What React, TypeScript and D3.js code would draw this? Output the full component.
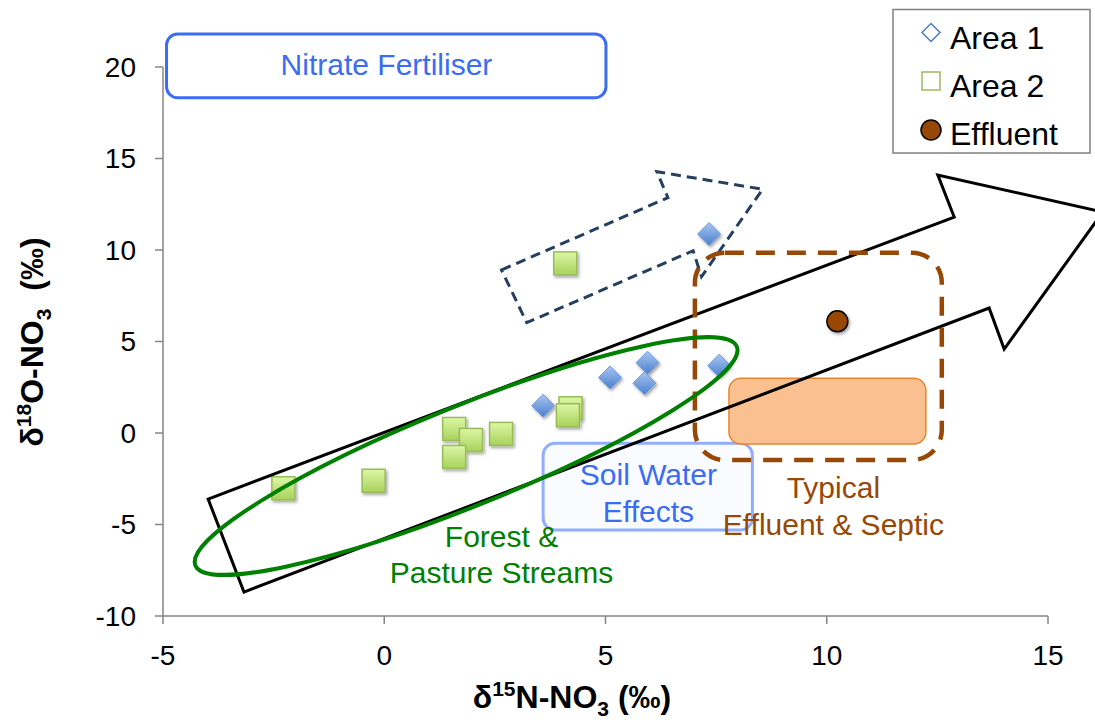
import React from 'react';
import * as d3 from 'd3';

// axes
const xTicks = [-5, 0, 5, 10, 15];
const yTicks = [-10, -5, 0, 5, 10, 15, 20];

// series (d15N, d18O)
const area1N = [7.34, 3.59, 5.1, 5.95, 5.88, 7.57];
const area1O = [10.87, 1.49, 3.03, 3.84, 2.72, 3.68];
const area2N = [-2.28, -0.24, 1.58, 1.96, 2.64, 1.58, 4.21, 4.15, 4.09];
const area2O = [-3.02, -2.61, 0.22, -0.38, -0.05, -1.31, 1.35, 0.97, 9.27];
const effluentN = [10.24];
const effluentO = [6.1];

const legendLabels = ['Area 1', 'Area 2', 'Effluent'];

// annotation shapes, in data units
const bigArrow: [number, number][] = [
  [-3.98, -3.61], [12.88, 11.8], [12.51, 14.1], [16.24, 12.08],
  [14.01, 4.59], [13.67, 6.83], [-3.17, -8.69],
];
const dashArrow: [number, number][] = [
  [2.65, 8.91], [6.41, 12.86], [6.16, 14.28], [8.55, 13.32],
  [7.17, 8.54], [6.98, 9.96], [3.22, 6.03],
];
const effluentZone = { x0: 7.02, x1: 12.6, y0: -1.48, y1: 9.85 };
const orangeZone = { x0: 7.79, x1: 12.24, y0: -0.6, y1: 2.99 };
const fertBox = { x0: -4.92, x1: 5.01, y0: 18.32, y1: 21.8 };
const soilBox = { x0: 3.59, x1: 8.32, y0: -5.3, y1: -0.56 };
const forestCentre = [1.85, -1.26];

const font = '"Liberation Sans", Arial, sans-serif';

export default function App() {
  const width = 1095, height = 720;
  const left = 163, right = 1048, top = 67, bottom = 616;

  const x = d3.scaleLinear().domain([-5, 15]).range([left, right]);
  const y = d3.scaleLinear().domain([-10, 20]).range([bottom, top]);

  const poly = d3.line<[number, number]>().x(d => x(d[0])).y(d => y(d[1]));

  const rect = (b: { x0: number; x1: number; y0: number; y1: number }) => ({
    x: x(b.x0), y: y(b.y1), width: x(b.x1) - x(b.x0), height: y(b.y0) - y(b.y1),
  });

  const diamond = (cx: number, cy: number, r: number) =>
    `M${cx},${cy - r}L${cx + r},${cy}L${cx},${cy + r}L${cx - r},${cy}Z`;

  const blue = '#3a6cf4';
  const brown = '#974706';

  return (
    <svg width={width} height={height} style={{ position: 'absolute', left: 0, top: 0, background: '#fff' }} fontFamily={font}>
      <defs>
        <linearGradient id="gBlue" x1="0" y1="0" x2="0" y2="1">
          <stop offset="0" stopColor="#a9c6f0" />
          <stop offset="1" stopColor="#4a7fcf" />
        </linearGradient>
        <linearGradient id="gGreen" x1="0" y1="0" x2="0" y2="1">
          <stop offset="0" stopColor="#dcf7a6" />
          <stop offset="1" stopColor="#a8d25c" />
        </linearGradient>
        <filter id="shadow" x="-30%" y="-30%" width="170%" height="170%">
          <feDropShadow dx="1.5" dy="2" stdDeviation="1.5" floodColor="#000" floodOpacity="0.35" />
        </filter>
      </defs>

      {/* axes */}
      <g stroke="#868686" strokeWidth={1.5}>
        <line x1={left} x2={left} y1={top} y2={bottom} />
        <line x1={left} x2={right} y1={bottom} y2={bottom} />
        {yTicks.map(t => <line key={t} x1={left - 8} x2={left} y1={y(t)} y2={y(t)} />)}
        {xTicks.map(t => <line key={t} x1={x(t)} x2={x(t)} y1={bottom} y2={bottom + 8} />)}
      </g>
      <g fontSize={28} fill="#000">
        {yTicks.map(t => (
          <text key={t} x={left - 27} y={y(t)} dy="0.35em" textAnchor="end">{t}</text>
        ))}
        {xTicks.map(t => (
          <text key={t} x={x(t)} y={bottom + 49} textAnchor="middle">{t}</text>
        ))}
      </g>
      <text x={572} y={708} textAnchor="middle" fontSize={32} fontWeight="bold">
        δ<tspan fontSize={21} dy={-12}>15</tspan><tspan dy={12}>N-NO</tspan>
        <tspan fontSize={21} dy={8}>3</tspan><tspan dy={-8}> (‰)</tspan>
      </text>
      <text transform="translate(43,342) rotate(-90)" textAnchor="middle" fontSize={32} fontWeight="bold" xmlSpace="preserve">
        δ<tspan fontSize={21} dy={-12}>18</tspan><tspan dy={12}>O-NO</tspan>
        <tspan fontSize={21} dy={8}>3</tspan><tspan dy={-8}>  (‰)</tspan>
      </text>

      {/* boxes behind */}
      <rect {...rect(fertBox)} rx={11} fill="#fff" stroke={blue} strokeWidth={3} />
      <rect {...rect(soilBox)} rx={12} fill="#f8faff" fillOpacity={0.8} stroke="#7f9ffb" strokeOpacity={0.85} strokeWidth={3} />
      <rect {...rect(orangeZone)} rx={12} fill="#fac090" stroke="#e8842c" strokeWidth={1.5} />

      {/* data */}
      <g filter="url(#shadow)">
        {area2N.map((n, i) => (
          <rect key={i} x={x(n) - 11.5} y={y(area2O[i]) - 11.5} width={23} height={23}
            fill="url(#gGreen)" stroke="#9bbb59" strokeWidth={1.5} />
        ))}
        {area1N.map((n, i) => (
          <path key={i} d={diamond(x(n), y(area1O[i]), 11.5)} fill="url(#gBlue)" stroke="#6f9ad8" strokeWidth={1} />
        ))}
        {effluentN.map((n, i) => (
          <circle key={i} cx={x(n)} cy={y(effluentO[i])} r={10.5} fill={brown} stroke="#000" strokeWidth={1.5} />
        ))}
      </g>

      {/* overlay shapes */}
      <path d={poly(bigArrow) + 'Z'} fill="none" stroke="#000" strokeWidth={3} strokeLinejoin="miter" />
      <path d={poly(dashArrow) + 'Z'} fill="none" stroke="#243f60" strokeWidth={3} strokeDasharray="10 6" />
      <rect {...rect(effluentZone)} rx={30} fill="none" stroke={brown} strokeWidth={4.5} strokeDasharray="19 12" />
      <ellipse cx={x(forestCentre[0])} cy={y(forestCentre[1])} rx={292} ry={50}
        transform={`rotate(-22,${x(forestCentre[0])},${y(forestCentre[1])})`}
        fill="none" stroke="#008000" strokeWidth={4} />

      {/* labels */}
      <g fontSize={30} textAnchor="middle">
        <text x={x(0.05)} y={y(19.56)} fill={blue}>Nitrate Fertiliser</text>
        <text x={x(5.97)} y={y(-2.84)} fill={blue}>
          <tspan x={x(5.97)}>Soil Water</tspan>
          <tspan x={x(5.97)} dy={36.7}>Effects</tspan>
        </text>
        <text x={x(2.65)} y={y(-6.21)} fill="#008000">
          <tspan x={x(2.65)}>Forest &amp;</tspan>
          <tspan x={x(2.65)} dy={36.7}>Pasture Streams</tspan>
        </text>
        <text x={x(10.15)} y={y(-3.57)} fill={brown}>
          <tspan x={x(10.15)}>Typical</tspan>
          <tspan x={x(10.15)} dy={36.7}>Effluent &amp; Septic</tspan>
        </text>
      </g>

      {/* legend */}
      <g>
        <rect x={893} y={9.5} width={197} height={143.5} fill="#fff" stroke="#7f7f7f" strokeWidth={1.5} />
        <path d={diamond(931, 32.5, 9)} fill="none" stroke="#4a7ebb" strokeWidth={1.5} />
        <rect x={922} y={72} width={18} height={18} fill="none" stroke="#9bbb59" strokeWidth={1.5} />
        <circle cx={931} cy={130} r={10} fill={brown} stroke="#000" strokeWidth={1.5} />
        {legendLabels.map((l, i) => (
          <text key={l} x={950} y={48.5 + i * 48.3} fontSize={32} fill="#000">{l}</text>
        ))}
      </g>
    </svg>
  );
}
